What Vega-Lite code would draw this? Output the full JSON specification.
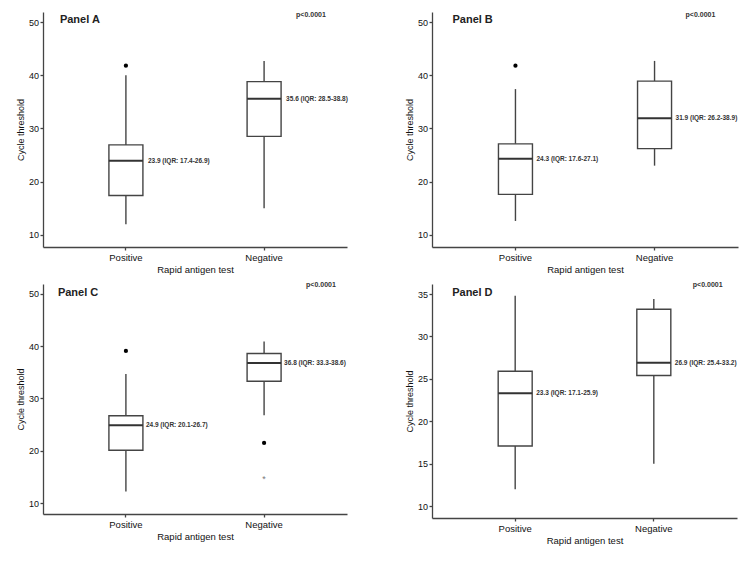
{
  "$schema": "https://vega.github.io/schema/vega-lite/v6.json",
  "background": "white",
  "padding": {"left": 16, "top": 10, "right": 5, "bottom": 5},
  "config": {
    "font": "Liberation Sans",
    "view": {"stroke": null},
    "axis": {"domainColor": "#444", "domainWidth": 1.3, "tickColor": "#444", "tickWidth": 1.3, "tickSize": 3, "labelFont": "Liberation Sans", "labelColor": "#111", "titleFont": "Liberation Sans", "titleFontWeight": "normal", "titleColor": "#111", "grid": false},
    "axisX": {"labelAngle": 0, "labelPadding": 2, "labelFontSize": 9.5, "titleFontSize": 9.5, "titlePadding": 3},
    "axisY": {"labelPadding": 1.5, "labelFontSize": 9, "titleFontSize": 9, "titlePadding": 3}
  },
  "spacing": 7,
  "vconcat": [
    {
      "bounds": "flush",
      "spacing": 85,
      "hconcat": [
        {
          "width": 304, "height": 235,
          "encoding": {"x": {"field": "cat", "type": "nominal", "sort": ["Positive", "Negative"], "scale": {"domain": ["Positive", "Negative"], "paddingInner": 0, "paddingOuter": 0.1}, "title": "Rapid antigen test"}},
          "layer": [
            {"data": {"values": [
              {"cat": "Positive", "lo": 12, "q1": 17.4, "med": 23.9, "q3": 26.9, "hi": 40, "label": "23.9 (IQR: 17.4-26.9)"},
              {"cat": "Negative", "lo": 15, "q1": 28.5, "med": 35.6, "q3": 38.8, "hi": 42.7, "label": "35.6 (IQR: 28.5-38.8)"}]},
             "layer": [
              {"mark": {"type": "rule", "color": "#444", "strokeWidth": 1.4},
               "encoding": {"y": {"field": "lo", "type": "quantitative", "scale": {"domain": [7.7, 51.9], "nice": false, "zero": false}, "axis": {"values": [10, 20, 30, 40, 50], "title": "Cycle threshold"}}, "y2": {"field": "hi"}}},
              {"mark": {"type": "bar", "width": 34, "fill": "white", "stroke": "#444", "strokeWidth": 1.4},
               "encoding": {"y": {"field": "q1", "type": "quantitative", "scale": {"domain": [7.7, 51.9], "nice": false, "zero": false}, "axis": {"values": [10, 20, 30, 40, 50], "title": "Cycle threshold"}}, "y2": {"field": "q3"}}},
              {"mark": {"type": "tick", "size": 34, "thickness": 2, "color": "#333", "opacity": 1},
               "encoding": {"y": {"field": "med", "type": "quantitative", "scale": {"domain": [7.7, 51.9], "nice": false, "zero": false}, "axis": {"values": [10, 20, 30, 40, 50], "title": "Cycle threshold"}}}},
              {"mark": {"type": "text", "align": "left", "baseline": "middle", "dx": 22, "fontSize": 6.5, "fontWeight": "bold", "color": "#333"},
               "encoding": {"y": {"field": "med", "type": "quantitative", "scale": {"domain": [7.7, 51.9], "nice": false, "zero": false}, "axis": {"values": [10, 20, 30, 40, 50], "title": "Cycle threshold"}}, "text": {"field": "label"}}}
             ]},
            {"data": {"values": [{"cat": "Positive", "v": 41.8}]},
             "mark": {"type": "point", "filled": true, "color": "black", "opacity": 1, "size": 18},
             "encoding": {"y": {"field": "v", "type": "quantitative", "scale": {"domain": [7.7, 51.9], "nice": false, "zero": false}, "axis": {"values": [10, 20, 30, 40, 50], "title": "Cycle threshold"}}}},
            {"data": {"values": [{"cat": "Positive", "v": 50.4, "t": "Panel A"}]},
             "mark": {"type": "text", "align": "left", "baseline": "middle", "dx": -66, "fontSize": 11, "fontWeight": "bold", "color": "#222"},
             "encoding": {"y": {"field": "v", "type": "quantitative", "scale": {"domain": [7.7, 51.9], "nice": false, "zero": false}, "axis": {"values": [10, 20, 30, 40, 50], "title": "Cycle threshold"}}, "text": {"field": "t"}}},
            {"data": {"values": [{"cat": "Negative", "v": 51.4, "t": "p<0.0001"}]},
             "mark": {"type": "text", "align": "left", "baseline": "middle", "dx": 32, "fontSize": 7, "fontWeight": "bold", "color": "#333"},
             "encoding": {"y": {"field": "v", "type": "quantitative", "scale": {"domain": [7.7, 51.9], "nice": false, "zero": false}, "axis": {"values": [10, 20, 30, 40, 50], "title": "Cycle threshold"}}, "text": {"field": "t"}}}
          ]
        },
        {
          "width": 306, "height": 235,
          "encoding": {"x": {"field": "cat", "type": "nominal", "sort": ["Positive", "Negative"], "scale": {"domain": ["Positive", "Negative"], "paddingInner": 0, "paddingOuter": 0.1}, "title": "Rapid antigen test"}},
          "layer": [
            {"data": {"values": [
              {"cat": "Positive", "lo": 12.6, "q1": 17.6, "med": 24.3, "q3": 27.1, "hi": 37.4, "label": "24.3 (IQR: 17.6-27.1)"},
              {"cat": "Negative", "lo": 23, "q1": 26.2, "med": 31.9, "q3": 38.9, "hi": 42.7, "label": "31.9 (IQR: 26.2-38.9)"}]},
             "layer": [
              {"mark": {"type": "rule", "color": "#444", "strokeWidth": 1.4},
               "encoding": {"y": {"field": "lo", "type": "quantitative", "scale": {"domain": [7.7, 51.9], "nice": false, "zero": false}, "axis": {"values": [10, 20, 30, 40, 50], "title": "Cycle threshold"}}, "y2": {"field": "hi"}}},
              {"mark": {"type": "bar", "width": 34, "fill": "white", "stroke": "#444", "strokeWidth": 1.4},
               "encoding": {"y": {"field": "q1", "type": "quantitative", "scale": {"domain": [7.7, 51.9], "nice": false, "zero": false}, "axis": {"values": [10, 20, 30, 40, 50], "title": "Cycle threshold"}}, "y2": {"field": "q3"}}},
              {"mark": {"type": "tick", "size": 34, "thickness": 2, "color": "#333", "opacity": 1},
               "encoding": {"y": {"field": "med", "type": "quantitative", "scale": {"domain": [7.7, 51.9], "nice": false, "zero": false}, "axis": {"values": [10, 20, 30, 40, 50], "title": "Cycle threshold"}}}},
              {"mark": {"type": "text", "align": "left", "baseline": "middle", "dx": 21, "fontSize": 6.5, "fontWeight": "bold", "color": "#333"},
               "encoding": {"y": {"field": "med", "type": "quantitative", "scale": {"domain": [7.7, 51.9], "nice": false, "zero": false}, "axis": {"values": [10, 20, 30, 40, 50], "title": "Cycle threshold"}}, "text": {"field": "label"}}}
             ]},
            {"data": {"values": [{"cat": "Positive", "v": 41.8}]},
             "mark": {"type": "point", "filled": true, "color": "black", "opacity": 1, "size": 18},
             "encoding": {"y": {"field": "v", "type": "quantitative", "scale": {"domain": [7.7, 51.9], "nice": false, "zero": false}, "axis": {"values": [10, 20, 30, 40, 50], "title": "Cycle threshold"}}}},
            {"data": {"values": [{"cat": "Positive", "v": 50.4, "t": "Panel B"}]},
             "mark": {"type": "text", "align": "left", "baseline": "middle", "dx": -63, "fontSize": 11, "fontWeight": "bold", "color": "#222"},
             "encoding": {"y": {"field": "v", "type": "quantitative", "scale": {"domain": [7.7, 51.9], "nice": false, "zero": false}, "axis": {"values": [10, 20, 30, 40, 50], "title": "Cycle threshold"}}, "text": {"field": "t"}}},
            {"data": {"values": [{"cat": "Negative", "v": 51.4, "t": "p<0.0001"}]},
             "mark": {"type": "text", "align": "left", "baseline": "middle", "dx": 31, "fontSize": 7, "fontWeight": "bold", "color": "#333"},
             "encoding": {"y": {"field": "v", "type": "quantitative", "scale": {"domain": [7.7, 51.9], "nice": false, "zero": false}, "axis": {"values": [10, 20, 30, 40, 50], "title": "Cycle threshold"}}, "text": {"field": "t"}}}
          ]
        }
      ]
    },
    {
      "bounds": "flush",
      "spacing": 85,
      "hconcat": [
        {
          "width": 304, "height": 230,
          "encoding": {"x": {"field": "cat", "type": "nominal", "sort": ["Positive", "Negative"], "scale": {"domain": ["Positive", "Negative"], "paddingInner": 0, "paddingOuter": 0.1}, "title": "Rapid antigen test"}},
          "layer": [
            {"data": {"values": [
              {"cat": "Positive", "lo": 12.2, "q1": 20.1, "med": 24.9, "q3": 26.7, "hi": 34.7, "label": "24.9 (IQR: 20.1-26.7)"},
              {"cat": "Negative", "lo": 26.8, "q1": 33.3, "med": 36.8, "q3": 38.6, "hi": 40.9, "label": "36.8 (IQR: 33.3-38.6)"}]},
             "layer": [
              {"mark": {"type": "rule", "color": "#444", "strokeWidth": 1.4},
               "encoding": {"y": {"field": "lo", "type": "quantitative", "scale": {"domain": [7.9, 51.9], "nice": false, "zero": false}, "axis": {"values": [10, 20, 30, 40, 50], "title": "Cycle threshold"}}, "y2": {"field": "hi"}}},
              {"mark": {"type": "bar", "width": 34, "fill": "white", "stroke": "#444", "strokeWidth": 1.4},
               "encoding": {"y": {"field": "q1", "type": "quantitative", "scale": {"domain": [7.9, 51.9], "nice": false, "zero": false}, "axis": {"values": [10, 20, 30, 40, 50], "title": "Cycle threshold"}}, "y2": {"field": "q3"}}},
              {"mark": {"type": "tick", "size": 34, "thickness": 2, "color": "#333", "opacity": 1},
               "encoding": {"y": {"field": "med", "type": "quantitative", "scale": {"domain": [7.9, 51.9], "nice": false, "zero": false}, "axis": {"values": [10, 20, 30, 40, 50], "title": "Cycle threshold"}}}},
              {"mark": {"type": "text", "align": "left", "baseline": "middle", "dx": 20, "fontSize": 6.5, "fontWeight": "bold", "color": "#333"},
               "encoding": {"y": {"field": "med", "type": "quantitative", "scale": {"domain": [7.9, 51.9], "nice": false, "zero": false}, "axis": {"values": [10, 20, 30, 40, 50], "title": "Cycle threshold"}}, "text": {"field": "label"}}}
             ]},
            {"data": {"values": [{"cat": "Positive", "v": 39.1}, {"cat": "Negative", "v": 21.5}]},
             "mark": {"type": "point", "filled": true, "color": "black", "opacity": 1, "size": 18},
             "encoding": {"y": {"field": "v", "type": "quantitative", "scale": {"domain": [7.9, 51.9], "nice": false, "zero": false}, "axis": {"values": [10, 20, 30, 40, 50], "title": "Cycle threshold"}}}},
            {"data": {"values": [{"cat": "Negative", "v": 15.0, "t": "*"}]},
             "mark": {"type": "text", "align": "center", "baseline": "middle", "dy": 2, "fontSize": 9, "color": "#777"},
             "encoding": {"y": {"field": "v", "type": "quantitative", "scale": {"domain": [7.9, 51.9], "nice": false, "zero": false}, "axis": {"values": [10, 20, 30, 40, 50], "title": "Cycle threshold"}}, "text": {"field": "t"}}},
            {"data": {"values": [{"cat": "Positive", "v": 50.1, "t": "Panel C"}]},
             "mark": {"type": "text", "align": "left", "baseline": "middle", "dx": -68, "fontSize": 11, "fontWeight": "bold", "color": "#222"},
             "encoding": {"y": {"field": "v", "type": "quantitative", "scale": {"domain": [7.9, 51.9], "nice": false, "zero": false}, "axis": {"values": [10, 20, 30, 40, 50], "title": "Cycle threshold"}}, "text": {"field": "t"}}},
            {"data": {"values": [{"cat": "Negative", "v": 51.7, "t": "p<0.0001"}]},
             "mark": {"type": "text", "align": "left", "baseline": "middle", "dx": 42, "fontSize": 7, "fontWeight": "bold", "color": "#333"},
             "encoding": {"y": {"field": "v", "type": "quantitative", "scale": {"domain": [7.9, 51.9], "nice": false, "zero": false}, "axis": {"values": [10, 20, 30, 40, 50], "title": "Cycle threshold"}}, "text": {"field": "t"}}}
          ]
        },
        {
          "width": 305, "height": 234,
          "encoding": {"x": {"field": "cat", "type": "nominal", "sort": ["Positive", "Negative"], "scale": {"domain": ["Positive", "Negative"], "paddingInner": 0, "paddingOuter": 0.1}, "title": "Rapid antigen test"}},
          "layer": [
            {"data": {"values": [
              {"cat": "Positive", "lo": 12, "q1": 17.1, "med": 23.3, "q3": 25.9, "hi": 34.8, "label": "23.3 (IQR: 17.1-25.9)"},
              {"cat": "Negative", "lo": 15, "q1": 25.4, "med": 26.9, "q3": 33.2, "hi": 34.4, "label": "26.9 (IQR: 25.4-33.2)"}]},
             "layer": [
              {"mark": {"type": "rule", "color": "#444", "strokeWidth": 1.4},
               "encoding": {"y": {"field": "lo", "type": "quantitative", "scale": {"domain": [8.62, 36.18], "nice": false, "zero": false}, "axis": {"values": [10, 15, 20, 25, 30, 35], "title": "Cycle threshold"}}, "y2": {"field": "hi"}}},
              {"mark": {"type": "bar", "width": 34, "fill": "white", "stroke": "#444", "strokeWidth": 1.4},
               "encoding": {"y": {"field": "q1", "type": "quantitative", "scale": {"domain": [8.62, 36.18], "nice": false, "zero": false}, "axis": {"values": [10, 15, 20, 25, 30, 35], "title": "Cycle threshold"}}, "y2": {"field": "q3"}}},
              {"mark": {"type": "tick", "size": 34, "thickness": 2, "color": "#333", "opacity": 1},
               "encoding": {"y": {"field": "med", "type": "quantitative", "scale": {"domain": [8.62, 36.18], "nice": false, "zero": false}, "axis": {"values": [10, 15, 20, 25, 30, 35], "title": "Cycle threshold"}}}},
              {"mark": {"type": "text", "align": "left", "baseline": "middle", "dx": 21, "fontSize": 6.5, "fontWeight": "bold", "color": "#333"},
               "encoding": {"y": {"field": "med", "type": "quantitative", "scale": {"domain": [8.62, 36.18], "nice": false, "zero": false}, "axis": {"values": [10, 15, 20, 25, 30, 35], "title": "Cycle threshold"}}, "text": {"field": "label"}}}
             ]},
            {"data": {"values": [{"cat": "Positive", "v": 35.1, "t": "Panel D"}]},
             "mark": {"type": "text", "align": "left", "baseline": "middle", "dx": -63, "fontSize": 11, "fontWeight": "bold", "color": "#222"},
             "encoding": {"y": {"field": "v", "type": "quantitative", "scale": {"domain": [8.62, 36.18], "nice": false, "zero": false}, "axis": {"values": [10, 15, 20, 25, 30, 35], "title": "Cycle threshold"}}, "text": {"field": "t"}}},
            {"data": {"values": [{"cat": "Negative", "v": 36.06, "t": "p<0.0001"}]},
             "mark": {"type": "text", "align": "left", "baseline": "middle", "dx": 39, "fontSize": 7, "fontWeight": "bold", "color": "#333"},
             "encoding": {"y": {"field": "v", "type": "quantitative", "scale": {"domain": [8.62, 36.18], "nice": false, "zero": false}, "axis": {"values": [10, 15, 20, 25, 30, 35], "title": "Cycle threshold"}}, "text": {"field": "t"}}}
          ]
        }
      ]
    }
  ]
}
